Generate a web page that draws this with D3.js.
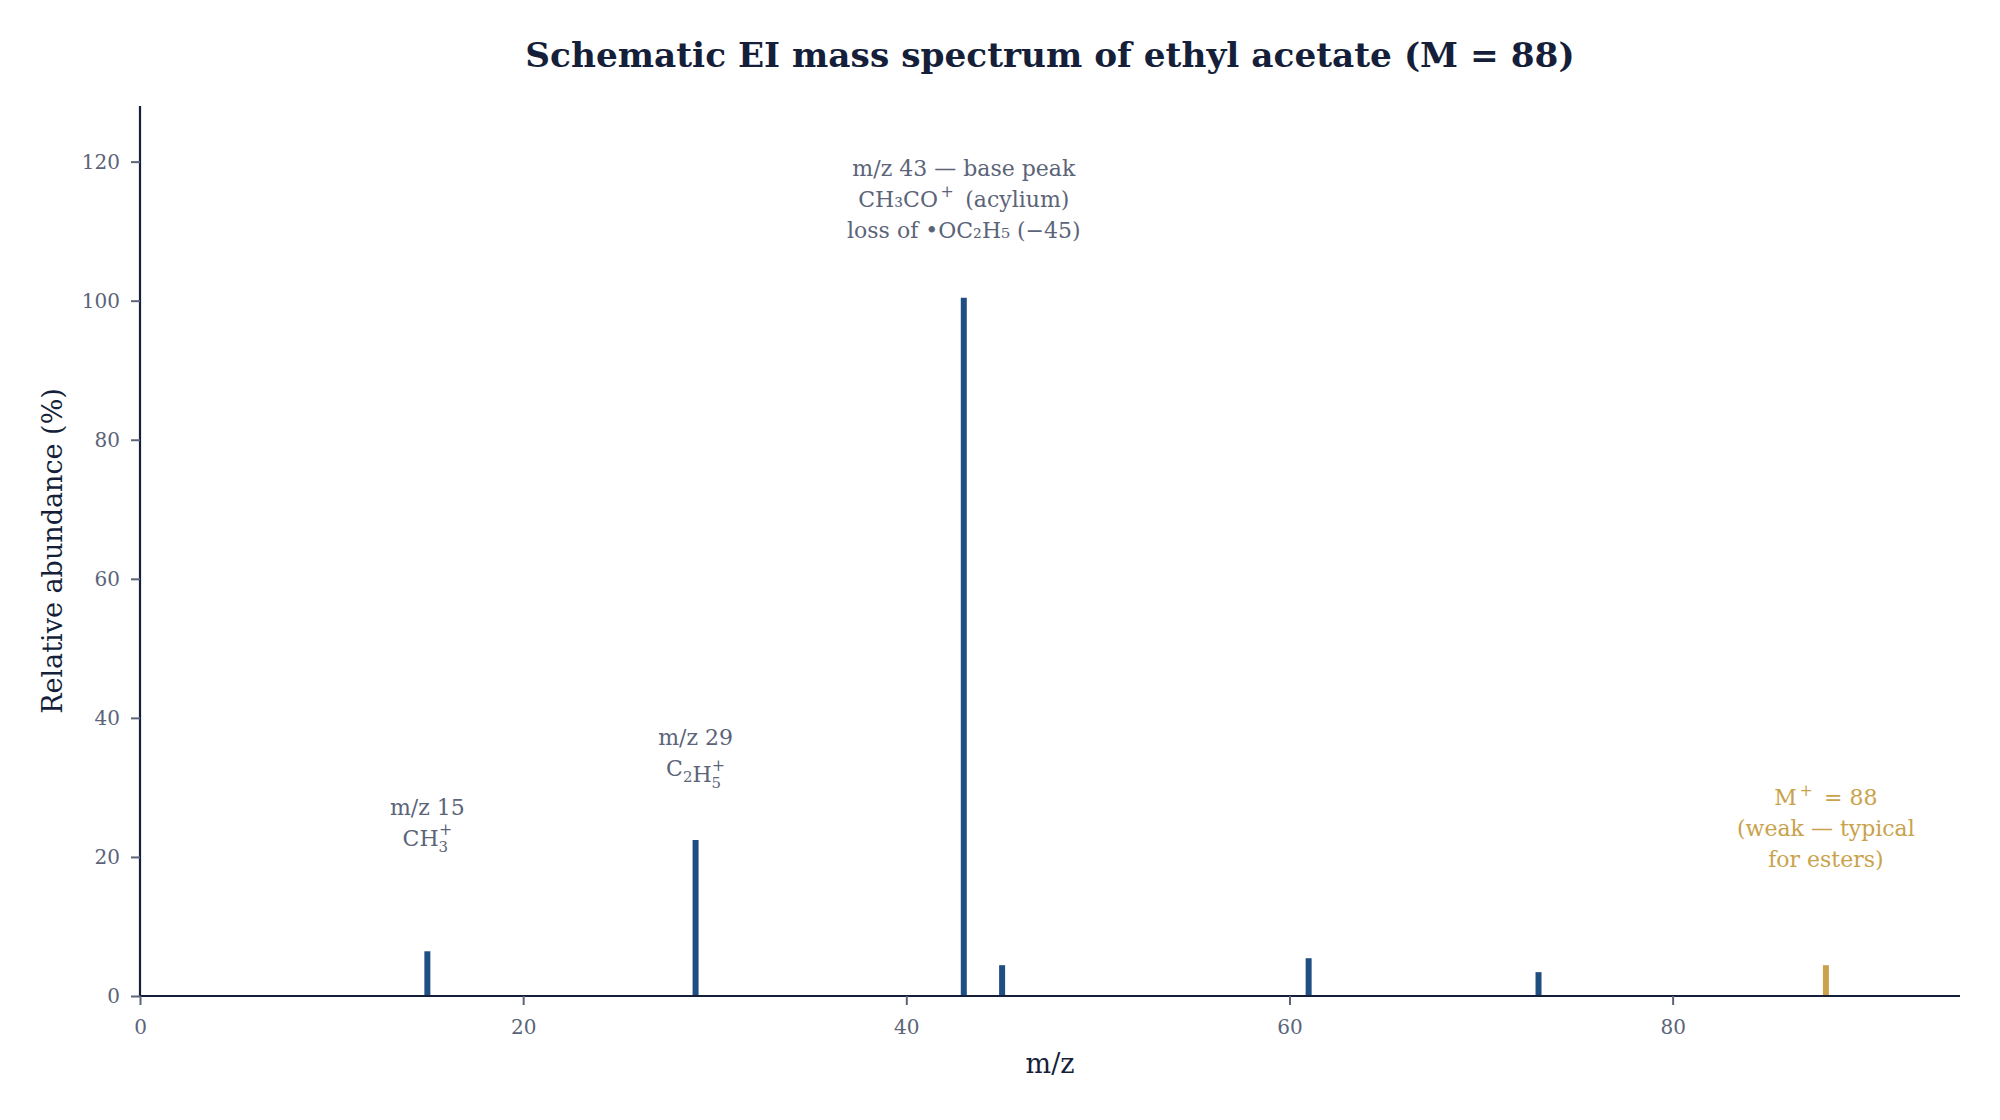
<!DOCTYPE html>
<html>
<head>
<meta charset="utf-8">
<script src="https://cdn.jsdelivr.net/npm/d3@7"></script>
<style>
  html, body { margin: 0; padding: 0; background: #ffffff; }
  svg { display: block; }
  text { font-family: Georgia, "DejaVu Serif", serif; }
</style>
</head>
<body>
<svg id="chart" width="2000" height="1120"></svg>
<script>
// ---- data ----
const mzValues = [15, 29, 43, 45, 61, 73, 88];
const abundances = [6, 22, 100, 4, 5, 3, 4];
const isMolecularIon = [false, false, false, false, false, false, true];
const xTicks = [0, 20, 40, 60, 80];
const yTicks = [0, 20, 40, 60, 80, 100, 120];
const xDomain = [0, 95];
const yDomain = [0, 128];

// annotations: anchor (m/z, abundance at first line) and text lines
const annoX = [43, 29, 15, 88];
const annoY = [118, 36.1, 26, 27.4];
const annoLines = [
  ["m/z 43 — base peak", "CH₃CO^+ (acylium)", "loss of •OC₂H₅ (−45)"],
  ["m/z 29", "C_2H_5^+"],
  ["m/z 15", "CH_3^+"],
  ["M^+ = 88", "(weak — typical", "for esters)"]
];

const titleText = "Schematic EI mass spectrum of ethyl acetate (M = 88)";
const xLabel = "m/z";
const yLabel = "Relative abundance (%)";

// ---- layout ----
const W = 2000, H = 1120;
const M = { left: 140, right: 40, top: 106, bottom: 124 };
const iw = W - M.left - M.right, ih = H - M.top - M.bottom;

const colBar = "#1f4e82", colGold = "#c9a24b", colText = "#5b6478", colDark = "#161f3a";
const FONT = 'Georgia, "DejaVu Serif", serif';

const svg = d3.select("#chart");
const x = d3.scaleLinear().domain(xDomain).range([M.left, M.left + iw]);
const y = d3.scaleLinear().domain(yDomain).range([M.top + ih, M.top]);

svg.append("defs").append("clipPath").attr("id", "plotclip")
  .append("rect").attr("x", M.left).attr("y", 0).attr("width", iw).attr("height", M.top + ih);

// title
svg.append("text").attr("x", W / 2 + 50).attr("y", 67)
  .attr("text-anchor", "middle").attr("font-size", 34.3).attr("font-weight", "bold")
  .attr("fill", colDark).text(titleText);

// bars
const peaks = mzValues.map((m, i) => ({ m, v: abundances[i], mol: isMolecularIon[i] }));
svg.append("g").attr("clip-path", "url(#plotclip)")
  .selectAll("line").data(peaks).join("line")
  .attr("x1", d => x(d.m)).attr("x2", d => x(d.m))
  .attr("y1", y(0)).attr("y2", d => y(d.v))
  .attr("stroke", d => d.mol ? colGold : colBar)
  .attr("stroke-width", 6).attr("stroke-linecap", "square");

// axes
const xAxis = svg.append("g").attr("transform", `translate(0,${y(0)})`)
  .call(d3.axisBottom(x).tickValues(xTicks).tickFormat(d3.format("d")).tickSize(9).tickPadding(15));
const yAxis = svg.append("g").attr("transform", `translate(${x(0)},0)`)
  .call(d3.axisLeft(y).tickValues(yTicks).tickFormat(d3.format("d")).tickSize(9).tickPadding(11));
[xAxis, yAxis].forEach(g => {
  g.select(".domain").attr("stroke", colDark).attr("stroke-width", 2.2);
  g.selectAll(".tick line").attr("stroke", colText).attr("stroke-width", 2);
  g.selectAll(".tick text").attr("fill", colText).attr("font-size", 20).attr("font-family", FONT);
});
xAxis.select(".domain").attr("d", `M${x(xDomain[0])},0H${x(xDomain[1])}`);
yAxis.select(".domain").attr("d", `M0,${y(yDomain[0])}V${y(yDomain[1])}`);

// axis titles
svg.append("text").attr("x", M.left + iw / 2).attr("y", 1073)
  .attr("text-anchor", "middle").attr("font-size", 27).attr("fill", colDark).text(xLabel);
svg.append("text").attr("transform", `translate(62,${M.top + ih / 2}) rotate(-90)`)
  .attr("text-anchor", "middle").attr("font-size", 27).attr("fill", colDark).text(yLabel);

// annotations ( "_x" = subscript, "^x" = superscript; "_x^y" stacked )
function richText(t, s, fs) {
  let i = 0, buf = "";
  const flush = () => { if (buf) { t.append("tspan").text(buf); buf = ""; } };
  while (i < s.length) {
    const c = s[i];
    if (c === "_" || c === "^") {
      flush();
      let sub = null, sup = null;
      if (c === "_") { sub = s[i + 1]; i += 2; }
      if (s[i] === "^") { sup = s[i + 1]; i += 2; }
      if (sub) t.append("tspan").attr("font-size", fs * 0.68).attr("dy", fs * 0.28).text(sub);
      if (sup) {
        t.append("tspan").attr("font-size", fs * 0.72)
          .attr("dx", sub ? -fs * 0.42 : fs * 0.12)
          .attr("dy", sub ? -fs * 0.8 : -fs * 0.45).text(sup);
        t.append("tspan").attr("dy", sub ? fs * 0.52 : fs * 0.45).text(sub ? "" : "\u2009");
      } else {
        t.append("tspan").attr("dy", -fs * 0.28).text("");
      }
    } else { buf += c; i++; }
  }
  flush();
}

const lineGap = 31, annoFs = 22;
annoX.forEach((ax, i) => {
  const col = ax === 88 ? colGold : colText;
  const g = svg.append("g").attr("transform", `translate(${x(ax)},${y(annoY[i])})`);
  annoLines[i].forEach((ln, j) => {
    const t = g.append("text").attr("x", 0).attr("y", j * lineGap)
      .attr("text-anchor", "middle").attr("font-size", annoFs).attr("fill", col);
    richText(t, ln, annoFs);
  });
});
</script>
</body>
</html>
